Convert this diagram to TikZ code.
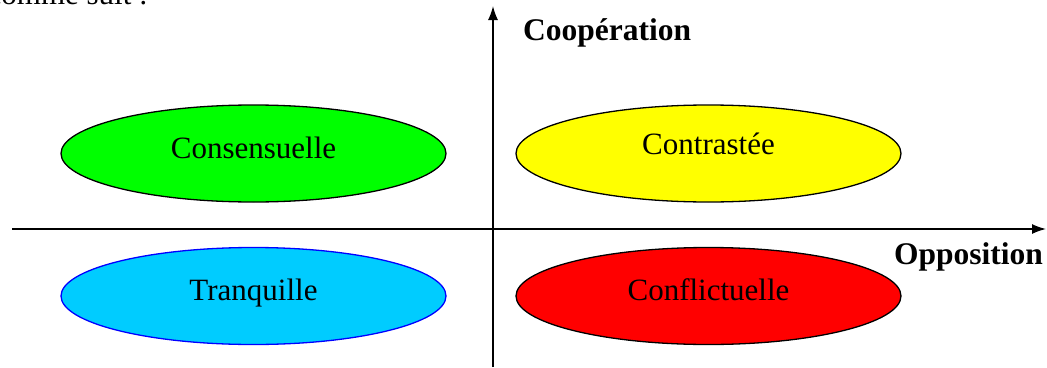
\documentclass[tikz,border=0pt]{standalone}
\usepackage{fontspec}
\setmainfont{Liberation Serif}
\usepackage{tikz}
\usetikzlibrary{shapes.geometric, arrows.meta, positioning}

\definecolor{consgreen}{RGB}{0,255,0}
\definecolor{contyellow}{RGB}{255,255,0}
\definecolor{tranqcyan}{RGB}{0,204,255}
\definecolor{conflred}{RGB}{255,0,0}
\definecolor{tranqblue}{RGB}{0,0,255}

\begin{document}
\begin{tikzpicture}[x=1pt, y=-1pt, >={Latex[length=14pt,width=10pt]},
  zone/.style={ellipse, draw, line width=1.3pt, minimum width=385pt, minimum height=97pt,
    inner sep=0pt, font=\fontsize{31}{36}\selectfont, text depth=12pt},
  axlabel/.style={font=\fontsize{31.5}{36}\selectfont\bfseries, inner sep=0pt}]
  \useasboundingbox (0,0) rectangle (1047,367);
  \clip (0,0) rectangle (1047,367);

  % bout du texte au-dessus
  \node[font=\fontsize{31}{36}\selectfont, inner sep=0pt, anchor=base east] (intro) at (148,4.5) {comme suit :};

  % axes
  \coordinate (xstart) at (12,229);
  \coordinate (xend) at (1046,229);
  \coordinate (ystart) at (493,367);
  \coordinate (yend) at (493,6);
  \draw[->, line width=1.5pt] (xstart) -- (xend);
  \draw[->, line width=1.5pt] (ystart) -- (yend);

  \node[axlabel, anchor=base west] (coop) at (523,40) {Coopération};
  \node[axlabel, anchor=base east] (oppo) at (1043,264) {Opposition};

  % quadrants
  \node[zone, fill=consgreen] (cons) at (253.5,153.5) {Consensuelle};
  \node[zone, fill=contyellow, text depth=20pt] (contr) at (708.5,153.5) {Contrastée};
  \node[zone, fill=tranqcyan, draw=tranqblue] (tranq) at (253.5,296) {Tranquille};
  \node[zone, fill=conflred] (confl) at (708.5,296) {Conflictuelle};
\end{tikzpicture}
\end{document}
